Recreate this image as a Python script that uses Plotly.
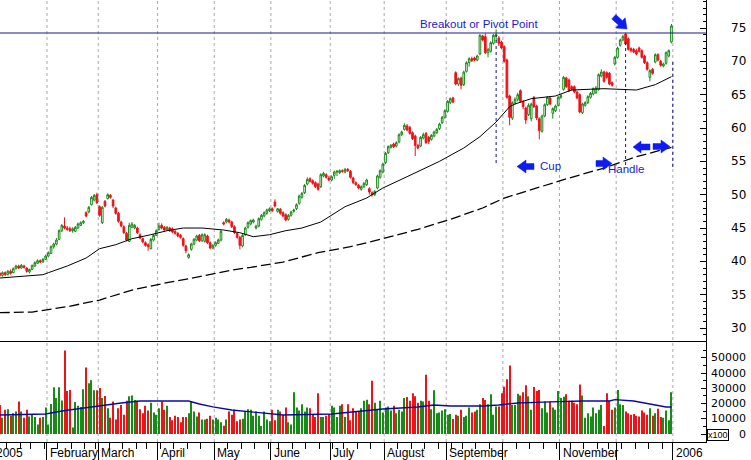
import pandas as pd
import plotly.graph_objects as go

# ------------------------------------------------------------------ data
holidays = ["2005-01-17", "2005-02-21", "2005-03-25", "2005-05-30",
            "2005-07-04", "2005-09-05", "2005-11-24", "2005-12-26"]
FIRST = 2  # first trading day of 2005 visible in the chart (Jan 5)

opens = [
    38.2, 37.9, 38.3, 38.0, 38.5, 38.3, 38.9, 39.3, 39.0, 39.3, 39.0, 38.4, 38.8, 39.3, 39.7, 40.1, 39.9, 40.3,
    40.8, 41.2, 42.2, 42.6, 43.3, 44.6, 45.3, 45.0, 44.9, 44.6, 44.5, 45.0, 45.4, 45.8, 47.3, 47.4, 48.5, 49.2, 50.0,
    48.2, 45.8, 49.0, 49.4, 49.9, 49.2, 48.0, 47.2, 45.9, 45.2, 44.2, 43.0, 45.1, 45.0, 45.0, 44.0, 43.4, 42.8, 42.5, 41.9, 43.2, 43.9,
    44.8, 45.4, 45.1, 44.8, 45.0, 44.9, 44.5, 44.2, 43.9, 43.4, 42.3, 40.6, 41.8, 42.6, 43.2, 43.9, 43.1, 43.0, 43.8, 42.8, 42.0,
    42.4, 42.7, 43.2, 45.8, 45.9, 46.2, 45.9, 45.2, 44.2, 43.6, 42.3, 44.0, 45.1, 45.6, 45.9, 45.0, 45.3, 46.3, 46.8, 47.2, 47.6,
    47.9, 48.9, 47.5, 47.8, 47.3, 47.0, 46.3, 46.9, 47.5, 47.9, 48.7, 49.6, 50.3, 51.6, 52.4, 52.1, 51.8, 51.6, 51.2, 52.8, 53.0, 52.5,
    52.2, 52.9, 53.4, 53.3, 53.6, 53.4, 53.8, 53.5, 52.5, 51.8, 51.4, 50.8, 51.2, 51.5, 50.9, 50.3, 50.0, 51.0, 52.6, 53.4,
    54.8, 56.3, 57.1, 57.6, 57.3, 57.9, 59.0, 59.8, 60.3, 60.1, 59.3, 58.8, 57.4, 57.3, 58.5, 59.2, 58.6, 58.3, 58.8, 59.3, 59.9, 60.8, 61.6,
    62.5, 63.8, 64.5, 68.3, 66.6, 67.5, 66.5, 68.5, 69.8, 70.4, 70.5, 70.2, 71.1, 73.8, 73.7, 71.3, 71.5, 72.7, 73.8, 73.5, 72.9,
    72.2, 70.2, 64.8, 61.5, 63.8, 64.3, 65.6, 64.0, 63.0, 62.0, 61.4, 64.6, 63.3, 61.4, 59.5, 61.8, 63.5, 64.5, 62.2, 62.6, 63.4,
    64.6, 65.8, 67.5, 67.2, 66.2, 66.2, 65.4, 65.0, 62.3, 63.4, 63.8, 64.6, 65.1, 65.3, 65.8, 67.8, 68.4, 68.3, 68.2, 66.8, 69.6,
    70.6, 72.4, 73.2, 74.1, 73.4, 71.9, 71.8, 71.6, 72.0, 71.6, 70.8, 69.8, 67.6, 68.8, 69.9, 71.0, 70.0, 69.3, 69.7, 70.8, 72.9,
]
highs = [
    38.4, 38.5, 38.5, 38.7, 38.8, 39.1, 39.5, 39.5, 39.6, 39.5, 39.1, 38.9, 39.5, 40.0, 40.3, 40.3, 40.5, 41.0,
    41.5, 42.4, 42.8, 43.5, 44.8, 45.6, 46.6, 45.3, 45.2, 45.1, 45.3, 45.8, 46.0, 46.2, 47.5, 48.3, 49.8, 50.1, 50.3,
    48.4, 48.3, 49.2, 50.2, 50.1, 49.3, 48.2, 47.4, 46.1, 45.4, 44.4, 45.8, 45.9, 45.6, 45.2, 44.2, 43.6, 43.0, 42.7, 43.5, 44.1, 44.8,
    45.8, 45.7, 45.3, 45.3, 45.2, 45.1, 44.7, 44.4, 44.1, 43.6, 42.5, 41.2, 42.8, 43.5, 44.0, 44.1, 44.2, 44.2, 44.0, 43.0, 42.6,
    43.0, 43.4, 44.7, 46.0, 46.5, 46.4, 46.1, 45.4, 44.4, 43.8, 44.1, 45.2, 46.0, 46.3, 46.4, 45.5, 46.6, 47.1, 47.5, 47.9, 48.1,
    48.1, 49.3, 48.0, 48.0, 47.5, 47.2, 47.1, 47.6, 47.9, 48.7, 50.0, 50.4, 51.6, 52.6, 52.6, 52.3, 52.0, 51.8, 53.2, 53.4, 53.2, 52.8,
    52.9, 53.6, 53.7, 53.8, 53.8, 54.0, 54.0, 53.7, 52.7, 52.0, 51.6, 51.4, 51.9, 52.4, 51.1, 50.5, 50.7, 53.0, 53.8, 54.8,
    56.4, 57.4, 57.6, 57.8, 58.0, 59.2, 59.6, 60.7, 60.6, 60.3, 59.5, 59.0, 57.6, 58.8, 59.3, 59.4, 58.8, 59.1, 59.6, 60.0, 60.8, 61.8, 62.8,
    64.2, 64.6, 64.7, 68.5, 67.6, 67.7, 68.6, 70.0, 70.6, 70.7, 70.7, 71.0, 74.1, 74.0, 74.2, 72.0, 73.0, 74.1, 74.8, 73.8, 73.1,
    72.4, 70.4, 65.0, 64.0, 64.6, 65.3, 65.8, 64.2, 63.2, 63.7, 63.8, 64.8, 63.5, 61.6, 62.0, 63.7, 64.8, 64.7, 63.1, 63.5, 64.8,
    65.1, 67.8, 67.7, 67.4, 66.4, 66.4, 65.6, 65.2, 63.8, 64.0, 64.9, 65.4, 66.1, 66.3, 68.2, 68.8, 68.6, 68.5, 68.4, 67.0, 70.8,
    72.2, 73.4, 74.0, 74.3, 73.6, 72.1, 72.0, 71.9, 72.2, 71.8, 71.0, 70.0, 68.8, 69.0, 71.2, 71.2, 70.2, 69.8, 71.5, 71.8, 75.6,
]
lows = [
    37.7, 37.7, 37.8, 37.9, 38.0, 38.2, 38.8, 38.9, 38.9, 38.9, 38.3, 38.2, 38.7, 39.2, 39.6, 39.7, 39.8, 40.2,
    40.6, 41.1, 41.9, 42.4, 43.2, 44.4, 44.8, 44.6, 44.4, 44.3, 44.4, 44.9, 45.3, 45.6, 46.6, 47.2, 48.4, 49.0, 48.6,
    46.7, 45.6, 48.1, 49.3, 49.4, 48.0, 47.0, 45.8, 45.1, 44.1, 43.0, 42.9, 45.0, 44.8, 44.1, 43.3, 42.7, 42.2, 41.6, 41.8, 43.0, 43.8,
    44.6, 44.8, 44.5, 44.6, 44.4, 44.2, 44.0, 43.6, 43.4, 42.2, 41.2, 40.4, 41.6, 42.4, 43.0, 42.9, 42.9, 42.8, 42.6, 41.8, 41.8,
    42.2, 42.6, 43.0, 45.4, 45.7, 45.7, 45.0, 44.1, 43.4, 41.8, 42.1, 43.8, 44.9, 45.4, 45.7, 44.8, 45.1, 46.1, 46.6, 47.0, 47.4,
    47.4, 48.1, 47.3, 47.0, 46.6, 46.0, 46.1, 46.7, 47.3, 47.7, 48.5, 49.4, 50.1, 51.4, 51.8, 51.5, 51.0, 50.6, 51.0, 52.6, 52.4, 52.0,
    52.0, 52.4, 52.8, 53.1, 53.3, 53.2, 53.4, 52.4, 51.6, 51.3, 50.8, 50.6, 51.0, 51.3, 50.0, 49.7, 49.8, 50.8, 52.4, 53.2,
    54.6, 56.1, 56.9, 57.0, 57.1, 57.7, 58.8, 59.6, 59.5, 59.0, 58.2, 55.8, 56.8, 57.1, 58.3, 57.6, 57.6, 58.1, 58.6, 59.1, 59.7, 60.6, 61.4,
    62.3, 63.6, 63.7, 66.4, 66.3, 65.8, 66.3, 68.3, 69.2, 69.9, 70.0, 70.0, 70.9, 73.0, 71.1, 70.6, 71.3, 72.5, 73.0, 72.3, 71.8,
    69.8, 64.4, 60.4, 61.2, 63.5, 64.0, 63.8, 62.8, 60.6, 61.8, 61.0, 63.0, 61.2, 58.3, 59.3, 61.6, 63.3, 63.4, 61.4, 62.4, 63.2,
    64.4, 65.6, 66.0, 65.4, 65.6, 65.2, 64.3, 62.2, 62.1, 63.2, 63.6, 64.4, 64.9, 65.1, 65.6, 67.6, 66.8, 67.4, 66.4, 66.2, 69.4,
    70.4, 72.2, 73.0, 72.4, 71.6, 71.3, 71.2, 70.9, 71.3, 70.4, 69.6, 68.6, 67.0, 68.0, 69.7, 70.0, 69.2, 69.1, 69.5, 70.6, 72.7,
]
closes = [
    37.9, 38.3, 38.0, 38.5, 38.2, 38.9, 39.3, 39.0, 39.4, 39.1, 38.5, 38.8, 39.4, 39.8, 40.1, 39.9, 40.3, 40.8,
    41.3, 42.2, 42.6, 43.2, 44.6, 45.4, 45.0, 44.8, 44.6, 44.9, 45.1, 45.6, 45.8, 46.0, 46.8, 48.1, 49.6, 49.9, 48.8,
    46.9, 48.1, 48.3, 50.0, 49.6, 48.3, 47.2, 46.0, 45.3, 44.3, 43.2, 45.4, 45.6, 45.4, 44.3, 43.5, 42.9, 42.4, 42.2, 43.3, 43.9, 44.6,
    45.3, 45.0, 44.7, 45.1, 44.6, 44.4, 44.2, 43.8, 43.6, 42.4, 41.6, 41.0, 42.6, 43.3, 43.8, 43.1, 44.0, 44.0, 42.8, 42.0, 42.4,
    42.8, 43.2, 44.5, 45.6, 46.3, 45.9, 45.2, 44.3, 43.6, 42.4, 43.9, 45.0, 45.8, 46.1, 46.2, 45.3, 46.4, 46.9, 47.3, 47.7, 47.9,
    47.6, 48.3, 47.9, 47.2, 46.8, 46.2, 46.9, 47.4, 47.7, 48.5, 49.8, 50.2, 51.4, 52.3, 52.0, 51.7, 51.2, 50.8, 53.0, 53.2, 52.6, 52.2,
    52.7, 53.4, 53.5, 53.6, 53.5, 53.8, 53.6, 52.6, 51.8, 51.5, 51.0, 51.2, 51.7, 52.2, 50.4, 50.0, 50.5, 52.8, 53.6, 54.6,
    56.2, 57.2, 57.4, 57.2, 57.8, 59.0, 59.4, 60.4, 59.7, 59.2, 58.4, 57.4, 57.0, 58.6, 59.0, 57.8, 58.0, 58.9, 59.4, 59.8, 60.6, 61.6, 62.6,
    64.0, 64.4, 63.9, 66.6, 67.4, 66.4, 68.4, 69.8, 70.4, 70.1, 70.2, 70.8, 73.9, 73.2, 71.3, 71.8, 72.8, 73.9, 74.0, 72.7, 72.0,
    70.0, 64.6, 61.6, 63.8, 64.3, 65.0, 64.0, 63.2, 61.2, 63.4, 63.6, 63.2, 61.5, 59.6, 61.8, 63.5, 64.6, 63.6, 62.9, 63.3, 64.6,
    64.9, 67.6, 66.2, 65.6, 65.8, 65.4, 64.5, 62.4, 63.6, 63.8, 64.7, 65.2, 65.9, 66.0, 68.0, 68.4, 67.0, 67.6, 66.6, 66.4, 70.6,
    72.0, 73.2, 73.7, 72.6, 71.8, 71.6, 71.4, 71.1, 71.5, 70.6, 69.8, 68.8, 68.6, 68.2, 71.0, 70.2, 69.4, 69.6, 71.3, 71.6, 75.3,
]
volumes = [
    19100, 10700, 15900, 16300, 12000, 13700, 14800, 21300, 14800, 10700, 15900, 11500, 12600, 11100, 6200, 10700, 11100, 17500,
    6200, 19800, 30800, 23700, 30800, 22000, 54900, 28200, 28900, 4200, 21100, 18500, 17700, 29500, 43800, 33400, 35400, 28800, 28800,
    30200, 23700, 25000, 17000, 10700, 21300, 9500, 17000, 19100, 12600, 21800, 24800, 25400, 22400, 21800, 16300, 13700, 18500, 15400, 20600, 14100, 12600,
    17000, 21300, 15900, 18500, 11100, 9000, 12000, 11100, 7700, 11100, 11100, 13700, 21500, 14800, 11500, 14100, 9500, 9500, 10000, 12000, 9500,
    10700, 9500, 7700, 5500, 9500, 14800, 12600, 15900, 8400, 9500, 10000, 14800, 16300, 15900, 12000, 14800, 12000, 5200, 14800, 9500, 8400,
    15900, 9000, 15900, 14800, 12600, 17500, 7700, 6200, 27500, 17500, 15400, 19600, 14800, 17500, 16900, 12600, 11100, 26800, 11100, 11100, 12000, 13200,
    18500, 17500, 11100, 18500, 19600, 11100, 19600, 9000, 16900, 14800, 14800, 16900, 21800, 22600, 19600, 35000, 20600, 15900, 21800, 14100,
    17500, 18100, 15400, 18500, 13700, 15900, 14800, 23700, 24400, 21800, 26800, 24800, 20600, 21800, 21300, 39000, 21800, 16300, 28800, 13700, 14100, 15400, 16300,
    12600, 13200, 9800, 12600, 12000, 15900, 11100, 12000, 17500, 14100, 14800, 15900, 19600, 23700, 22400, 19600, 26200, 12600, 18100, 18100, 26800,
    31000, 36000, 45000, 19000, 19000, 26500, 25400, 27500, 32000, 24800, 15900, 30900, 28300, 29000, 17000, 21300, 14100, 21300, 17500, 15900, 28300,
    23700, 24500, 26200, 21800, 21800, 20600, 19600, 32600, 25400, 10700, 13700, 11500, 17500, 13700, 15900, 19000, 5200, 26800, 21800, 15900, 17500,
    29000, 19600, 19000, 14800, 13700, 12600, 13200, 12000, 11500, 15400, 14100, 12600, 17000, 12000, 13700, 16600, 11100, 10700, 15400, 9000, 27500,
]

ma50_day = [2, 18, 20, 27, 34, 39, 45, 51, 58, 64, 70, 77, 85, 91, 96, 102, 108, 114, 121, 127, 130, 138,
            144, 153, 165, 174, 180, 186, 191, 193, 199, 208, 214, 226, 238, 245, 251]
ma50_val = [37.5, 38.0, 38.3, 39.3, 40.5, 41.9, 42.5, 43.4, 44.0, 44.6, 45.0, 45.0, 44.7, 44.3, 43.7, 44.0,
            44.6, 45.0, 45.9, 47.4, 48.2, 49.5, 51.0, 52.7, 55.0, 57.0, 58.7, 60.9, 63.2, 63.6, 64.4, 64.8,
            65.7, 65.9, 65.7, 66.5, 67.7]
ma200_day = [2, 14, 27, 39, 51, 64, 76, 88, 95, 107, 120, 132, 144, 157, 169, 181, 189, 201, 213, 226, 238, 251]
ma200_val = [32.3, 32.4, 33.2, 34.2, 35.7, 36.8, 37.7, 38.7, 39.1, 39.9, 41.3, 42.2, 43.4, 44.8, 46.3, 48.0,
             49.5, 51.0, 52.5, 54.0, 55.7, 57.1]
volma_day = [2, 19, 25, 38, 47, 54, 72, 76, 81, 88, 95, 101, 107, 125, 132, 144, 157, 163, 169, 181, 187,
             194, 206, 218, 228, 230, 237, 243, 249, 251]
volma_val = [12500, 13200, 15100, 18400, 20400, 21700, 21700, 19700, 17800, 15800, 14500, 13200, 12500, 13200,
             14500, 16400, 17800, 19100, 18400, 18400, 19100, 20400, 21100, 21700, 21700, 22600, 21700, 19700,
             17800, 17800]

breakout_level = 74.25
price_ticks = [30, 35, 40, 45, 50, 55, 60, 65, 70, 75]
volume_ticks = [0, 10000, 20000, 30000, 40000, 50000]
month_names = ["2005", "February", "March", "April", "May", "June", "July", "August",
               "September", "", "November", "", "2006"]

# ------------------------------------------------------------------ calendar
n = len(closes)
for arr in (opens, highs, lows, volumes):
    assert len(arr) == n, len(arr)
cal = pd.bdate_range("2005-01-03", "2005-12-30")
cal = cal[~cal.isin(pd.to_datetime(holidays))]
xs = list(range(FIRST, FIRST + n))
month_starts = [i for i in range(len(cal)) if i == 0 or cal[i].month != cal[i - 1].month] + [len(cal)]
week_starts = [i for i in range(1, len(cal)) if cal[i].weekday() < cal[i - 1].weekday()]

# ------------------------------------------------------------------ geometry
W, H = 751, 460
MR, MB = 45, 18
PW, PH = W - MR, H - MB
X0, X1 = 2.08, 263.8
price_dom = [(PH - 341.5) / PH, 1.0]
vol_dom = [0.0, (PH - 342) / PH]

GREEN = "#178a17"
RED = "#ea1419"
TXT_BLUE = "#1c1cc8"
ARR_BLUE = "#0c1cf2"
NAVY = "#1a1a8c"
FONT = "Liberation Sans, Arial, sans-serif"


def pxx(x):
    return x / PW


def pxy(y):
    return 1 - y / PH


def arrow(tip, d, head_len, head_half, shaft_half, shaft_len):
    import math
    dx, dy = d
    L = math.hypot(dx, dy)
    dx, dy = dx / L, dy / L
    nx, ny = -dy, dx
    tx, ty = tip
    bx, by = tx - head_len * dx, ty - head_len * dy
    sx, sy = bx - shaft_len * dx, by - shaft_len * dy
    pts = [(sx - shaft_half * nx, sy - shaft_half * ny), (bx - shaft_half * nx, by - shaft_half * ny),
           (bx - head_half * nx, by - head_half * ny), (tx, ty),
           (bx + head_half * nx, by + head_half * ny), (bx + shaft_half * nx, by + shaft_half * ny),
           (sx + shaft_half * nx, sy + shaft_half * ny)]
    path = "M " + " L ".join(f"{pxx(px):.5f},{pxy(py):.5f}" for px, py in pts) + " Z"
    return dict(type="path", xref="paper", yref="paper", path=path,
                fillcolor=ARR_BLUE, line=dict(color=ARR_BLUE, width=0.5), layer="above")


# ------------------------------------------------------------------ traces
vol_colors = [GREEN if c >= o else RED for o, c in zip(opens, closes)]

fig = go.Figure()
fig.add_trace(go.Bar(x=xs, y=volumes, marker=dict(color=vol_colors, line=dict(width=0)),
                     width=0.38, xaxis="x", yaxis="y2", hoverinfo="skip"))
fig.add_trace(go.Scatter(x=volma_day, y=volma_val, mode="lines", line=dict(color="#0a0aa0", width=1.4),
                         xaxis="x", yaxis="y2", hoverinfo="skip"))
fig.add_trace(go.Scatter(x=ma200_day, y=ma200_val, mode="lines",
                         line=dict(color="black", width=1.3, dash="10px,4px"), hoverinfo="skip"))
fig.add_trace(go.Scatter(x=ma50_day, y=ma50_val, mode="lines",
                         line=dict(color="black", width=1), hoverinfo="skip"))
fig.add_trace(go.Candlestick(
    x=xs, open=opens, high=highs, low=lows, close=closes, whiskerwidth=0,
    increasing=dict(line=dict(color=GREEN, width=1), fillcolor="white"),
    decreasing=dict(line=dict(color=RED, width=1), fillcolor=RED),
    hoverinfo="skip"))

# ------------------------------------------------------------------ shapes
shapes = []
for ms in month_starts:
    g = ms - 0.5
    if X0 < g < X1:
        shapes.append(dict(type="line", xref="x", yref="paper", x0=g, x1=g, y0=0, y1=1,
                           line=dict(color="#a9a9b4", width=1, dash="3px,3px"), layer="below"))
shapes.append(dict(type="line", xref="paper", yref="paper", x0=0, x1=1, y0=price_dom[0], y1=price_dom[0],
                   line=dict(color="black", width=1)))
shapes.append(dict(type="line", xref="paper", yref="y", x0=0, x1=1, y0=breakout_level, y1=breakout_level,
                   line=dict(color=NAVY, width=1.2)))

left_lip = max(range(180 - FIRST, 195 - FIRST), key=lambda i: highs[i]) + FIRST
right_lip = max(range(225 - FIRST, 245 - FIRST), key=lambda i: highs[i]) + FIRST
last_day = xs[-1]
for xv, ytop, ybot in [(left_lip, 73.95, 54.75), (right_lip, 73.2, 54.45), (last_day + 0.5, 69.9, 54.15)]:
    shapes.append(dict(type="line", xref="x", yref="y", x0=xv, x1=xv, y0=ybot, y1=ytop,
                       line=dict(color="#10108c", width=1, dash="3px,3px")))

shapes.append(arrow((517, 166.5), (-1, 0), 9, 6.5, 3, 8))
shapes.append(arrow((612, 163.5), (1, 0), 9, 6.5, 3, 7))
shapes.append(arrow((633, 147), (-1, 0), 8, 6, 3, 9))
shapes.append(arrow((670, 146.5), (1, 0), 9, 6.5, 3, 8))
shapes.append(arrow((627, 29), (0.732, 0.681), 9, 7, 3, 9))

# ------------------------------------------------------------------ annotations
ann = []
lab_x = 748 / PW
for v in price_ticks:
    ann.append(dict(xref="paper", yref="y", x=lab_x, y=v, text=str(v), showarrow=False,
                    xanchor="right", yanchor="middle", font=dict(family="DejaVu Sans", size=12, color="black")))
for v in volume_ticks:
    ann.append(dict(xref="paper", yref="y2", x=lab_x, y=v, text=str(v), showarrow=False,
                    xanchor="right", yanchor="middle", font=dict(family="DejaVu Sans", size=11, color="black")))
ann.append(dict(xref="paper", yref="paper", x=707.5 / PW, y=pxy(435), text="x100", showarrow=False,
                xanchor="left", yanchor="middle", bordercolor="black", borderwidth=1, borderpad=0,
                font=dict(family=FONT, size=9, color="black")))

for ms, name in zip(month_starts, month_names):
    if not name:
        continue
    g = ms - 0.5
    ann.append(dict(xref="paper", yref="paper", x=(g - X0) / (X1 - X0), y=pxy(453), text=name,
                    showarrow=False, xanchor="left", yanchor="middle", xshift=1,
                    font=dict(family=FONT, size=12, color="black")))

ann.append(dict(xref="paper", yref="paper", x=pxx(539.5), y=pxy(16), text="Breakout or Pivot Point",
                showarrow=False, font=dict(family=FONT, size=11.5, color=TXT_BLUE)))
ann.append(dict(xref="paper", yref="paper", x=pxx(563), y=pxy(166), text="Cup",
                showarrow=False, font=dict(family=FONT, size=11.5, color=TXT_BLUE)))
ann.append(dict(xref="paper", yref="paper", x=pxx(646), y=pxy(169), text="Handle",
                showarrow=False, font=dict(family=FONT, size=11.5, color=TXT_BLUE)))

# ------------------------------------------------------------------ layout
fig.update_layout(
    width=W, height=H, autosize=False,
    margin=dict(l=0, r=MR, t=0, b=MB, pad=0),
    paper_bgcolor="white", plot_bgcolor="white",
    showlegend=False, hovermode=False, boxgap=0.12,
    shapes=shapes, annotations=ann,
    xaxis=dict(range=[X0, X1], anchor="y2", showgrid=False, zeroline=False,
               showline=True, linecolor="black", linewidth=1,
               tickmode="array", tickvals=[m - 0.5 for m in month_starts], ticks="outside",
               ticklen=18, tickcolor="black", tickwidth=1, showticklabels=False,
               minor=dict(tickmode="array", tickvals=[w - 0.5 for w in week_starts],
                          ticks="outside", ticklen=6, tickcolor="black", tickwidth=1),
               rangeslider=dict(visible=False), fixedrange=True),
    yaxis=dict(domain=price_dom, range=[27.98, 79.2], side="right", anchor="x",
               showgrid=False, zeroline=False, showline=True, linecolor="black", linewidth=1,
               tickmode="array", tickvals=price_ticks, ticks="inside", ticklen=6, tickcolor="black",
               showticklabels=False,
               minor=dict(dtick=1, tick0=0, ticks="inside", ticklen=3, tickcolor="black"),
               fixedrange=True),
    yaxis2=dict(domain=vol_dom, range=[-5260, 60500], side="right", anchor="x",
                showgrid=False, zeroline=False, showline=True, linecolor="black", linewidth=1,
                tickmode="array", tickvals=volume_ticks, ticks="inside", ticklen=5, tickcolor="black",
                showticklabels=False,
                minor=dict(dtick=5000, tick0=0, ticks="inside", ticklen=3, tickcolor="black"),
                fixedrange=True),
)

fig.write_html("out.html")
